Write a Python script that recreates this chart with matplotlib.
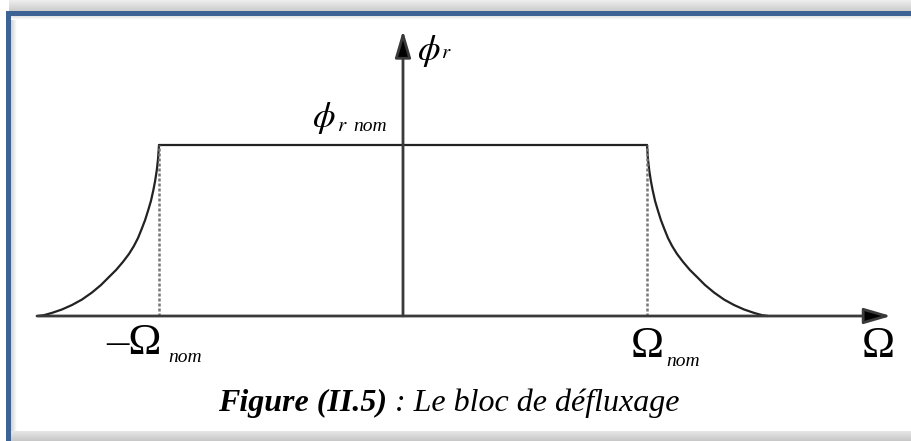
import numpy as np
import matplotlib.pyplot as plt
from matplotlib.patches import Rectangle

plt.rcParams['mathtext.fontset'] = 'stix'
plt.rcParams['font.family'] = ['Liberation Serif', 'DejaVu Serif']

# speed in units of Omega_nom, flux in units of phi_r_nom
omega_nom = 1.0
phi_nom = 1.0
tail_speed = np.array([1.0, 1.004, 1.009, 1.016, 1.023, 1.033, 1.044, 1.057,
                       1.071, 1.086, 1.103, 1.123, 1.148, 1.176, 1.205,
                       1.238, 1.275, 1.316, 1.357, 1.398, 1.439, 1.471,
                       1.496])
tail_flux = np.array([1.0, 0.918, 0.854, 0.789, 0.737, 0.673, 0.620, 0.561,
                      0.509, 0.456, 0.409, 0.363, 0.316, 0.269, 0.228,
                      0.181, 0.137, 0.096, 0.064, 0.038, 0.018, 0.005,
                      0.0])
x_axis_span = (-1.5, 2.0)
y_axis_top = 1.67

W, H = 912, 441
fig = plt.figure(figsize=(W / 100, H / 100), dpi=100)

# frame + drop shadow, drawn in pixel coordinates
bg = fig.add_axes([0, 0, 1, 1])
bg.set_xlim(0, W)
bg.set_ylim(H, 0)
bg.set_axis_off()
top_shade = np.linspace(0.93, 0.80, 20).reshape(-1, 1)
bg.imshow(top_shade, cmap='gray', vmin=0, vmax=1, aspect='auto',
          extent=(9, W, 11, 0), zorder=1)
bot_shade = np.linspace(0.90, 0.78, 20).reshape(-1, 1)
bg.imshow(bot_shade, cmap='gray', vmin=0, vmax=1, aspect='auto',
          extent=(11, W, H, 431), zorder=1)
left_inner = np.linspace(0.82, 1.0, 20).reshape(1, -1)
bg.imshow(left_inner, cmap='gray', vmin=0, vmax=1, aspect='auto',
          extent=(11, 17, 431, 16), zorder=1)
top_inner = np.linspace(0.88, 1.0, 20).reshape(-1, 1)
bg.imshow(top_inner, cmap='gray', vmin=0, vmax=1, aspect='auto',
          extent=(11, W, 20, 16), zorder=1)
frame = '#3d6394'
bg.add_patch(Rectangle((6, 11), W, 5, color=frame, lw=0, zorder=2))
bg.add_patch(Rectangle((6, 11), 5, H, color=frame, lw=0, zorder=2))

# diagram axes: origin at (403, 316) px
ax = fig.add_axes([0, 0, 1, 1])
ax.set_xlim(-403 / 244, (W - 403) / 244)
ax.set_ylim((316 - H) / 171, 316 / 171)
ax.set_axis_off()
ax.patch.set_alpha(0)

axis_col = '#3a3a3a'
head = '-|>,head_length=0.75,head_width=0.22'
ax.annotate('', xy=(x_axis_span[1], 0), xytext=(x_axis_span[0], 0),
            arrowprops=dict(arrowstyle=head, color=axis_col, lw=2, fc='black',
                            mutation_scale=22, shrinkA=0, shrinkB=0))
ax.annotate('', xy=(0, y_axis_top), xytext=(0, 0),
            arrowprops=dict(arrowstyle=head, color=axis_col, lw=2, fc='black',
                            mutation_scale=22, shrinkA=0, shrinkB=0))

line_kw = dict(color='#222222', lw=1.6, solid_joinstyle='round',
               solid_capstyle='round')
ax.plot([-omega_nom, omega_nom], [phi_nom, phi_nom], **line_kw)
ax.plot(tail_speed * omega_nom, tail_flux * phi_nom, **line_kw)
ax.plot(-tail_speed * omega_nom, tail_flux * phi_nom, **line_kw)
for s in (-omega_nom, omega_nom):
    ax.plot([s, s], [0, phi_nom], color='#777777', lw=1.8,
            linestyle=(0, (1.2, 0.8)))

# labels
def px(x, y):
    return ((x - 403) / 244, (316 - y) / 171)

ax.text(*px(417, 60), r'$\phi$', fontsize=26, ha='left', va='baseline')
ax.text(*px(441, 58), r'$r$', fontsize=15, ha='left', va='baseline')

ax.text(*px(312, 127), r'$\phi$', fontsize=26, ha='left', va='baseline')
ax.text(*px(337, 131), r'$r$', fontsize=15, ha='left', va='baseline')
ax.text(*px(353, 131), 'nom', fontsize=14, style='italic',
        ha='left', va='baseline')

ax.text(*px(106, 354), '\u2013\u03a9', fontsize=32, ha='left', va='baseline')
ax.text(*px(168, 362), 'nom', fontsize=14, style='italic',
        ha='left', va='baseline')
ax.text(*px(631, 357), '\u03a9', fontsize=32, ha='left', va='baseline')
ax.text(*px(666, 366), 'nom', fontsize=14, style='italic',
        ha='left', va='baseline')
ax.text(*px(862, 357), '\u03a9', fontsize=32, ha='left', va='baseline')

t1 = ax.text(*px(218, 411), 'Figure (II.5)', fontsize=23,
             style='italic', weight='bold', ha='left', va='baseline')
fig.canvas.draw()
bb = t1.get_window_extent()
x_end = bb.x1
ax.text(x_end / W * (ax.get_xlim()[1] - ax.get_xlim()[0]) + ax.get_xlim()[0],
        px(0, 411)[1], ' : Le bloc de d\u00e9fluxage', fontsize=23,
        style='italic', ha='left', va='baseline')

fig.savefig('out.png', dpi=100)
